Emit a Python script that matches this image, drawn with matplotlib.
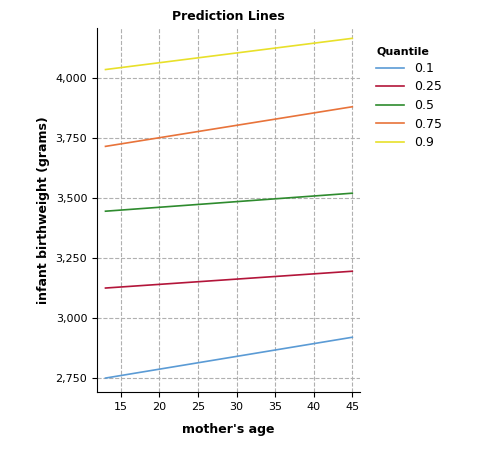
import matplotlib.pyplot as plt

age = [13, 45]
quantiles = ['0.1', '0.25', '0.5', '0.75', '0.9']
weights = [
    [2750, 2920],
    [3125, 3195],
    [3445, 3520],
    [3715, 3880],
    [4035, 4165],
]
colors = ['#5b9bd5', '#b3153a', '#2e8b2e', '#e8733a', '#e8e02a']

fig = plt.figure(figsize=(5.03, 4.75), dpi=100)
ax = fig.add_axes([97/503, 1 - 392/475, 263/503, 364/475])

for q, w, c in zip(quantiles, weights, colors):
    ax.plot(age, w, color=c, lw=1.2, label=q)

ax.set_xlim(11.9, 46)
ax.set_ylim(2692, 4208)
ax.set_xticks([15, 20, 25, 30, 35, 40, 45])
ax.set_yticks([2750, 3000, 3250, 3500, 3750, 4000])
ax.yaxis.set_major_formatter(plt.FuncFormatter(lambda v, p: f'{int(v):,}'))
ax.tick_params(labelsize=8)
ax.grid(True, ls='--', color='#b0b0b0', lw=0.8)
for s in ['top', 'right']:
    ax.spines[s].set_visible(False)

ax.set_title('Prediction Lines', fontsize=9, fontweight='bold')
ax.set_xlabel("mother's age", fontsize=9, fontweight='bold', labelpad=8)
ax.set_ylabel('infant birthweight (grams)', fontsize=9, fontweight='bold')

leg = fig.legend(loc='upper left', bbox_to_anchor=(365/503, 1 - 35/475), frameon=False,
                 title='Quantile', fontsize=9, handlelength=2.2, labelspacing=0.45,
                 alignment='left')
leg.get_title().set_fontweight('bold')
leg.get_title().set_fontsize(8)

fig.savefig('out.png', dpi=100)
